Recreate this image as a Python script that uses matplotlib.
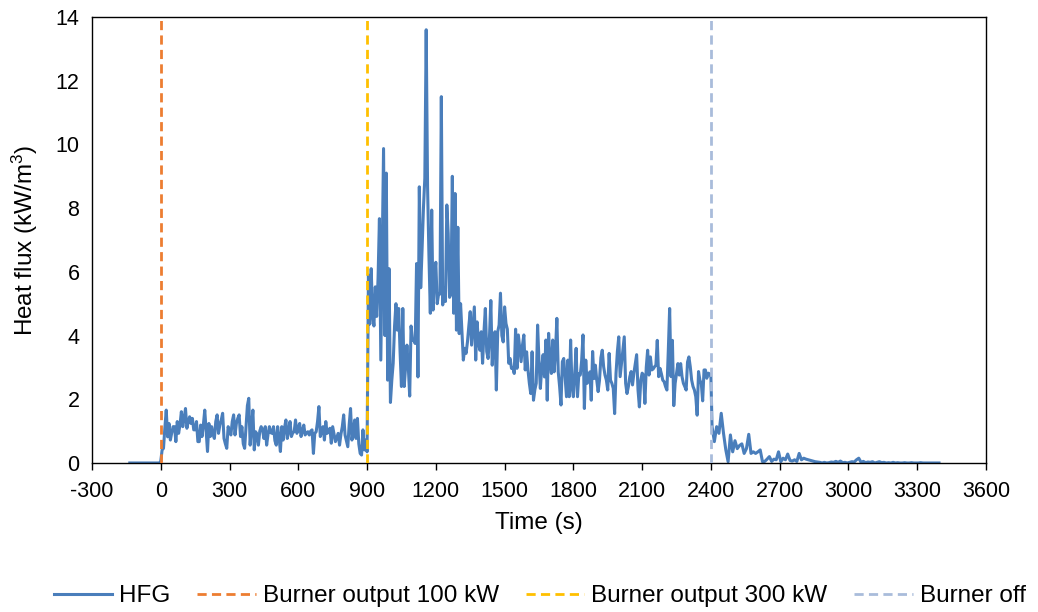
import numpy as np
import matplotlib
matplotlib.use("Agg")
import matplotlib.pyplot as plt

plt.rcParams["font.family"] = ["Liberation Sans", "DejaVu Sans"]
plt.rcParams["mathtext.default"] = "regular"
plt.rcParams["axes.unicode_minus"] = False

# heat flux gauge (HFG) readings, kW/m3
# before ignition (s)
pre_time = [-135, -6]
pre_flux = [0.0, 0.0]

# 0 - 894 s, every 6 s (burner 100 kW)
flux_100kw = [
    0.05, 0.41, 0.46, 1.10, 1.66, 0.82, 1.24, 0.72, 0.95, 1.14,
    1.14, 0.67, 1.30, 0.93, 1.20, 1.61, 1.14, 1.40, 1.71, 1.09,
    1.30, 1.45, 1.24, 1.40, 1.04, 1.04, 1.30, 0.67, 0.67, 1.19,
    0.83, 1.20, 1.66, 1.00, 0.36, 1.24, 0.83, 1.14, 0.90, 0.77,
    1.30, 1.51, 0.93, 1.20, 1.35, 1.56, 0.77, 0.60, 0.46, 1.14,
    1.00, 0.88, 1.30, 1.51, 0.88, 1.24, 1.40, 1.51, 0.83, 1.14,
    0.60, 0.46, 1.14, 1.80, 2.03, 0.56, 1.14, 1.66, 0.41, 0.98,
    0.90, 0.56, 1.00, 1.14, 1.04, 0.77, 1.14, 0.56, 0.90, 1.14,
    0.95, 0.93, 1.14, 0.70, 0.56, 1.14, 0.80, 0.36, 1.14, 0.72,
    1.10, 1.35, 0.77, 1.00, 1.30, 0.83, 0.95, 0.98, 1.35, 0.93,
    1.10, 1.24, 0.83, 1.00, 1.19, 0.88, 0.95, 0.98, 0.88, 1.00,
    1.04, 0.30, 0.93, 0.98, 1.30, 1.77, 0.83, 1.00, 1.14, 0.72,
    1.30, 0.93, 1.00, 1.09, 0.62, 1.14, 0.90, 0.67, 0.80, 0.93,
    0.56, 0.90, 1.14, 1.51, 0.88, 0.70, 0.51, 1.20, 1.71, 0.72,
    1.00, 1.35, 0.77, 1.40, 0.60, 0.30, 0.25, 1.04, 0.41, 0.72,
]

# 900 - 1314 s, every 6 s (burner 300 kW, peak part)
flux_300kw_peak = [
    0.35, 5.90, 4.36, 6.10, 4.70, 4.30, 5.53, 4.60, 5.80, 7.67,
    3.23, 6.50, 9.87, 4.00, 9.10, 2.60, 6.10, 1.90, 2.60, 3.13,
    4.30, 5.00, 4.17, 4.85, 3.50, 2.40, 4.85, 2.40, 3.00, 3.70,
    3.00, 2.10, 4.30, 3.86, 3.86, 3.75, 6.26, 2.70, 8.67, 5.50,
    6.70, 8.00, 8.94, 13.60, 8.67, 6.50, 4.70, 7.94, 4.80, 5.85,
    6.30, 5.00, 5.30, 5.30, 11.50, 4.96, 5.50, 5.07, 8.10, 7.20,
    5.20, 5.30, 9.00, 4.70, 8.46, 4.17, 7.40, 4.06, 5.00, 4.12,
]

# 1320 - 2400 s, every 6 s (burner 300 kW, decay part)
flux_300kw_late = [
    3.23, 3.60, 3.44, 3.80, 4.30, 4.75, 3.70, 4.30, 4.90, 3.23,
    4.43, 3.80, 3.54, 4.12, 3.13, 4.12, 4.85, 3.50, 3.28, 3.96,
    5.10, 3.07, 3.90, 4.12, 2.29, 4.12, 4.33, 5.33, 4.00, 3.80,
    4.90, 4.38, 4.20, 3.13, 3.28, 2.97, 3.00, 2.81, 4.20, 2.97,
    4.02, 3.60, 3.18, 3.70, 4.02, 2.92, 3.49, 2.92, 2.50, 2.18,
    3.49, 1.97, 2.30, 2.50, 4.33, 3.20, 2.34, 3.00, 3.40, 2.70,
    3.86, 1.97, 4.07, 3.20, 2.81, 3.86, 2.86, 3.50, 4.54, 2.86,
    2.40, 1.82, 3.18, 3.28, 2.70, 2.08, 3.23, 2.08, 3.86, 2.40,
    2.08, 2.81, 3.60, 2.08, 2.81, 2.76, 3.20, 4.02, 1.71, 3.23,
    2.50, 2.70, 2.86, 1.97, 3.50, 2.65, 3.07, 2.60, 2.24, 2.60,
    3.30, 3.54, 3.02, 2.76, 2.60, 2.29, 3.44, 2.60, 2.50, 2.34,
    1.55, 2.81, 3.50, 3.96, 2.71, 3.12, 3.50, 3.96, 2.50, 2.18,
    2.40, 2.70, 2.87, 2.45, 2.82, 3.10, 3.40, 2.29, 1.76, 2.60,
    2.82, 2.76, 1.87, 3.00, 3.54, 2.76, 3.33, 2.92, 2.95, 3.02,
    3.07, 3.85, 2.71, 2.97, 2.80, 2.60, 2.55, 2.40, 2.29, 3.50,
    4.85, 2.71, 3.85, 1.80, 2.50, 2.82, 3.12, 2.76, 3.12, 2.71,
    2.50, 2.40, 2.29, 3.17, 3.33, 3.02, 2.60, 2.40, 2.29, 2.08,
    1.50, 2.87, 2.60, 2.50, 1.95, 2.92, 2.92, 2.66, 2.82, 2.80,
    2.70,
]

# 2405 - 3395 s, every 10 s (burner off)
flux_off = [
    1.14, 0.67, 1.14, 0.93, 1.56, 0.93, 0.41, 0.04, 0.88, 0.35,
    0.70, 0.45, 0.55, 0.60, 0.30, 0.45, 0.90, 0.30, 0.35, 0.30,
    0.35, 0.41, 0.04, 0.05, 0.12, 0.20, 0.05, 0.12, 0.10, 0.35,
    0.04, 0.15, 0.10, 0.28, 0.08, 0.06, 0.10, 0.05, 0.30, 0.10,
    0.15, 0.12, 0.10, 0.08, 0.06, 0.04, 0.03, 0.02, 0.00, 0.02,
    0.00, 0.01, 0.03, 0.02, 0.05, 0.02, 0.06, 0.01, 0.02, 0.00,
    0.02, 0.04, 0.03, 0.10, 0.15, 0.02, 0.05, 0.01, 0.03, 0.02,
    0.04, 0.00, 0.02, 0.04, 0.01, 0.02, 0.00, 0.01, 0.00, 0.02,
    0.00, 0.01, 0.00, 0.00, 0.01, 0.00, 0.00, 0.01, 0.00, 0.00,
    0.00, 0.01, 0.00, 0.00, 0.00, 0.00, 0.00, 0.00, 0.00, 0.00,
]

burner_flux = flux_100kw + flux_300kw_peak + flux_300kw_late
burner_time = np.arange(len(burner_flux)) * 6
off_time = 2405 + np.arange(len(flux_off)) * 10

time = np.concatenate([pre_time, burner_time, off_time])
flux = np.concatenate([pre_flux, burner_flux, flux_off])

event_times = [0, 900, 2400]
event_labels = ["Burner output 100 kW", "Burner output 300 kW", "Burner off"]
event_colors = ["#ED7D31", "#FFC000", "#A9BCDB"]

x_ticks = np.arange(-300, 3601, 300)
y_ticks = np.arange(0, 15, 2)

fs_tick = 15.5
fs_lab = 17.5

fig = plt.figure(figsize=(10.38, 6.12), dpi=100)
ax = fig.add_axes([0.0886, 0.2435, 0.8613, 0.7287])

ax.plot(time, flux, color="#4A7EBB", lw=2.2, label="HFG", zorder=2)
for t, lab, col in zip(event_times, event_labels, event_colors):
    ax.plot([t, t], [y_ticks[0], y_ticks[-1]], color=col, lw=2.0,
            ls=(0, (3.3, 1.9)), label=lab, zorder=3)

ax.set_xlim(x_ticks[0], x_ticks[-1])
ax.set_ylim(y_ticks[0], y_ticks[-1])
ax.set_xticks(x_ticks)
ax.set_yticks(y_ticks)
ax.tick_params(axis="x", direction="out", length=5, width=1, pad=8, labelsize=fs_tick)
ax.tick_params(axis="y", length=0, pad=9, labelsize=fs_tick)
for s in ax.spines.values():
    s.set_color("black")
    s.set_linewidth(1.0)

ax.set_xlabel("Time (s)", fontsize=fs_lab, labelpad=7)
ax.set_ylabel(r"Heat flux (kW/m$^{3}$)", fontsize=fs_lab, labelpad=11)

fig.legend(loc="center", bbox_to_anchor=(0.52, 0.026), ncol=4, frameon=False,
           fontsize=fs_lab, handlelength=2.4, handletextpad=0.3, columnspacing=1.1)

fig.savefig("out.png", dpi=100)
